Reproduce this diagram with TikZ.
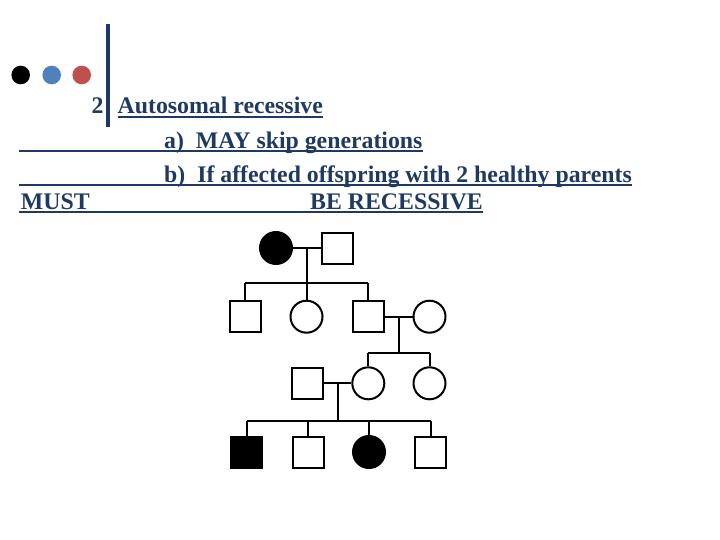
\documentclass[tikz,border=0pt]{standalone}
\usepackage{fontspec}
\setmainfont{Liberation Serif}
\usepackage{xcolor}
\usepackage{tikz}
\usetikzlibrary{positioning}
\definecolor{slidenavy}{HTML}{1F3A62}
\definecolor{slideblue}{HTML}{4F81BD}
\definecolor{slidered}{HTML}{C0504D}

\begin{document}
\begin{tikzpicture}[x=1pt,y=-1pt,
  txt/.style={anchor=base west,inner sep=0pt,text=slidenavy,font=\fontsize{23.8}{28}\selectfont\bfseries},
  uline/.style={slidenavy,line width=2pt},
  male/.style={draw,line width=2pt,rectangle,minimum size=31pt,inner sep=0pt},
  female/.style={draw,line width=2pt,circle,minimum size=32pt,inner sep=0pt},
  aff/.style={fill=black},
  kin/.style={line width=2pt}]
  \useasboundingbox (0,0) rectangle (720,540);
  \fill[black] (20.7,75) circle (9.3pt);
  \fill[slideblue] (51.7,75) circle (9.3pt);
  \fill[slidered] (81.7,75) circle (9.3pt);
  \fill[slidenavy] (106,24) rectangle (109.5,126.7);
  \node[txt] (num) at (91.5,113.3) {2};
  \node[txt] (t1) at (117.5,113.3) {Autosomal recessive};
  \node[txt] (t2) at (164,148.3) {a)\ \ MAY skip generations};
  \node[txt] (t3) at (164,182.3) {b)\ \ If affected offspring with 2 healthy parents};
  \node[txt] (t4a) at (20.7,209.3) {MUST};
  \node[txt] (t4b) at (310,209.3) {BE RECESSIVE};
  \draw[uline] (t1.west |- 0,116.7) -- (t1.east |- 0,116.7);
  \draw[uline] (19,151.2) -- (t2.east |- 0,151.2);
  \draw[uline] (19,185.2) -- (t3.east |- 0,185.2);
  \draw[uline] (19,212.5) -- (t4b.east |- 0,212.5);
  \begin{scope}
    \node[female,aff] (i1) at (276,248) {};
    \node[male] (i2) at (337,248) {};
    \node[male] (ii1) at (245,316.7) {};
    \node[female] (ii2) at (306.5,316.7) {};
    \node[male] (ii3) at (368,316.7) {};
    \node[female] (ii4) at (429.5,316.7) {};
    \node[male] (iii1) at (307,383.3) {};
    \node[female] (iii2) at (368.3,383.3) {};
    \node[female] (iii3) at (429.5,383.3) {};
    \node[male,aff] (iv1) at (246.5,452) {};
    \node[male] (iv2) at (308,452) {};
    \node[female,aff] (iv3) at (369,452) {};
    \node[male] (iv4) at (430.5,452) {};
    \coordinate (m1) at (306.5,248);
    \coordinate (s1) at (306.5,283.3);
    \coordinate (m2) at (399,316.7);
    \coordinate (s2) at (399,353.3);
    \coordinate (m3) at (338.3,383.3);
    \coordinate (s3) at (338.3,421);
    \draw[kin] (i1) -- (i2);
    \draw[kin] (m1) -- (s1);
    \draw[kin] (ii1 |- s1) -- (ii3 |- s1);
    \foreach \c in {ii1,ii2,ii3}{\draw[kin] (\c |- s1) -- (\c.north);}
    \draw[kin] (ii3) -- (ii4);
    \draw[kin] (m2) -- (s2);
    \draw[kin] (iii2 |- s2) -- (iii3 |- s2);
    \foreach \c in {iii2,iii3}{\draw[kin] (\c |- s2) -- (\c.north);}
    \draw[kin] (iii1) -- (iii2);
    \draw[kin] (m3) -- (s3);
    \draw[kin] (iv1 |- s3) -- (iv4 |- s3);
    \foreach \c in {iv1,iv2,iv3,iv4}{\draw[kin] (\c |- s3) -- (\c.north);}
  \end{scope}
\end{tikzpicture}
\end{document}
